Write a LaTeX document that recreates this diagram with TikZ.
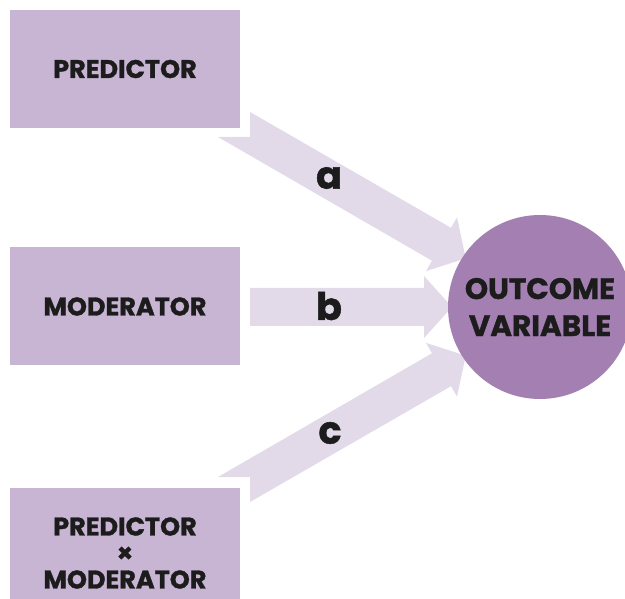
\documentclass[tikz,border=0pt]{standalone}
\usepackage{fontspec}
\setmainfont{Poppins}[BoldFeatures={FakeBold=1.2}]
\usepackage{tikz}
\definecolor{boxlilac}{HTML}{C8B4D3}
\definecolor{arrowlilac}{HTML}{E2DAE9}
\definecolor{outcomelilac}{HTML}{A47FB2}
\definecolor{inkblack}{HTML}{1C1C1C}
\tikzset{
  varbox/.style={rectangle, fill=boxlilac, minimum width=230pt, minimum height=118pt,
    inner sep=0pt, align=center, text=inkblack, font=\fontsize{25.5}{26.5}\selectfont\bfseries},
  pathlabel/.style={text=inkblack, font=\fontsize{38}{38}\selectfont\bfseries},
  blockarrow/.style={fill=arrowlilac}
}
\begin{document}
\begin{tikzpicture}[x=1pt,y=-1pt]
\useasboundingbox (0,0) rectangle (625,599);
 % the three predictors
 \node[varbox] (pred) at (125,69) {PREDICTOR};
 \node[varbox] (mod) at (125,306.5) {MODERATOR};
 \node[varbox, minimum height=130pt] (inter) at (125,553) {PREDICTOR\\×\\MODERATOR};

 % paths a, b, c
 \fill[blockarrow] (250,112) -- (250,137) -- (218,137) -- (432,260.7) -- (426,271.1)
   -- (465.8,258.3) -- (457,217.4) -- (451,227.8) -- cycle;
 \fill[blockarrow] (250,288) -- ++(174,0) -- ++(0,-12) -- (452,307) -- (424,338)
   -- ++(0,-12) -- ++(-174,0) -- cycle;
 \fill[blockarrow] (218,477) -- (432,353.3) -- (426,342.9) -- (465.8,355.7) -- (457,396.6)
   -- (451,386.2) -- (250,502) -- (250,477) -- cycle;

 \node[pathlabel] (la) at (329,178) {a};
 \node[pathlabel] (lb) at (329,306) {b};
 \node[pathlabel] (lc) at (330,433) {c};

 % outcome
 \node[circle, fill=outcomelilac, minimum size=184pt, inner sep=0pt, align=center,
   text=inkblack, font=\fontsize{29.5}{37}\selectfont\bfseries] (out) at (540,307)
   {OUTCOME\\VARIABLE};
\end{tikzpicture}
\end{document}
